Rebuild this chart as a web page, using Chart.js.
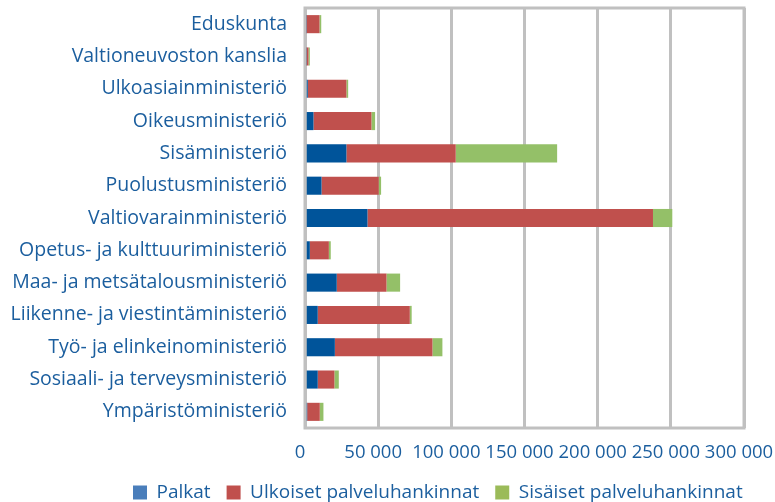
<!DOCTYPE html>
<html>
<head>
<meta charset="utf-8">
<script src="https://cdn.jsdelivr.net/npm/chart.js@4/dist/chart.umd.min.js"></script>
<style>
  html, body { margin: 0; padding: 0; background: #fff; }
  #wrap { width: 775px; height: 502px; }
</style>
</head>
<body>
<div id="wrap"><canvas id="costChart" width="775" height="502"></canvas></div>
<script>
// Ministries, top to bottom
const ministries = [
    'Eduskunta',
    'Valtioneuvoston kanslia',
    'Ulkoasiainministeriö',
    'Oikeusministeriö',
    'Sisäministeriö',
    'Puolustusministeriö',
    'Valtiovarainministeriö',
    'Opetus- ja kulttuuriministeriö',
    'Maa- ja metsätalousministeriö',
    'Liikenne- ja viestintäministeriö',
    'Työ- ja elinkeinoministeriö',
    'Sosiaali- ja terveysministeriö',
    'Ympäristöministeriö'
];

const palkat    = [300, 300, 1900, 5800, 28300, 11300, 42700, 3300, 21700, 8700, 20400, 8700, 1500];
const ulkoiset  = [9600, 2100, 26400, 39600, 74700, 39100, 195100, 13000, 34000, 62900, 66700, 11400, 8600];
const sisaiset  = [1200, 900, 1200, 2500, 69300, 1600, 13200, 1300, 9300, 1300, 6800, 3000, 2500];

const xTicks = [0, 50000, 100000, 150000, 200000, 250000, 300000];

const TEXT_COLOR = '#1b5e9e';
const GRID_COLOR = '#c0c0c0';
const FONT = "'Open Sans', sans-serif";

const fmt = v => String(v).replace(/\B(?=(\d{3})+(?!\d))/g, ' ');

// frame round the plot area
const plotFrame = {
    id: 'plotFrame',
    afterDatasetsDraw(chart) {
        const { ctx, chartArea: a } = chart;
        ctx.save();
        ctx.strokeStyle = GRID_COLOR;
        ctx.lineWidth = 3;
        ctx.strokeRect(a.left, a.top, a.right - a.left, a.bottom - a.top);
        ctx.restore();
    }
};

// legend a bit right of centre and lower, like the original;
// let the x labels run below their (short) box without being clipped
const layoutTweaks = {
    id: 'layoutTweaks',
    afterLayout(chart) {
        const lg = chart.legend;
        if (lg) {
            lg.left = 133 - lg.options.labels.padding;
            lg.top += 10;
            lg.bottom += 10;
        }
        chart.scales.x.bottom = chart.height;
    }
};

const legendColors = ['#4a7ebb', '#c0504d', '#9bbb59'];

new Chart(document.getElementById('costChart').getContext('2d'), {
    type: 'bar',
    data: {
        labels: ministries,
        datasets: [
            { label: 'Palkat',                    data: palkat,   backgroundColor: '#00549a' },
            { label: 'Ulkoiset palveluhankinnat', data: ulkoiset, backgroundColor: '#c0504d' },
            { label: 'Sisäiset palveluhankinnat', data: sisaiset, backgroundColor: '#94c068' }
        ]
    },
    options: {
        indexAxis: 'y',
        responsive: false,
        animation: false,
        layout: { padding: { top: 8, left: 0, right: 0, bottom: 0 } },
        datasets: { bar: { categoryPercentage: 0.8, barPercentage: 0.7 } },
        plugins: {
            tooltip: { enabled: false },
            legend: {
                position: 'bottom',
                align: 'start',
                labels: {
                    color: TEXT_COLOR,
                    font: { family: FONT, size: 19 },
                    boxWidth: 14,
                    boxHeight: 14,
                    padding: 16,
                    generateLabels: chart => chart.data.datasets.map((ds, i) => ({
                        text: ds.label,
                        fillStyle: legendColors[i],
                        strokeStyle: legendColors[i],
                        lineWidth: 0,
                        fontColor: TEXT_COLOR,
                        hidden: false,
                        datasetIndex: i
                    }))
                }
            }
        },
        scales: {
            x: {
                stacked: true,
                min: 0,
                max: 300000,
                afterBuildTicks: scale => { scale.ticks = xTicks.map(v => ({ value: v })); },
                afterFit: scale => {
                    scale.height = 29;
                    scale.paddingLeft = 0;
                    scale.paddingRight = 31;
                },
                grid: { color: GRID_COLOR, lineWidth: 3, drawTicks: false },
                border: { display: false },
                ticks: {
                    color: TEXT_COLOR,
                    font: { family: FONT, size: 18.5 },
                    padding: 14,
                    labelOffset: -5,
                    maxRotation: 0,
                    callback: v => fmt(v)
                }
            },
            y: {
                stacked: true,
                afterFit: scale => {
                    scale.width = 305;
                    scale.paddingTop = 0;
                    scale.paddingBottom = 0;
                },
                grid: { display: false, drawTicks: false },
                border: { display: false },
                ticks: {
                    color: TEXT_COLOR,
                    font: { family: FONT, size: 19.5 },
                    padding: 18,
                    autoSkip: false
                }
            }
        }
    },
    plugins: [plotFrame, layoutTweaks]
});
</script>
</body>
</html>
